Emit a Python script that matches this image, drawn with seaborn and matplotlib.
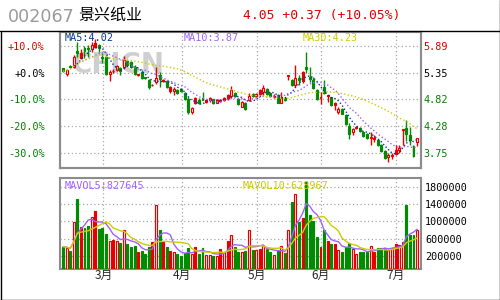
import numpy as np
import pandas as pd
import matplotlib
matplotlib.use("Agg")
import matplotlib.pyplot as plt
from matplotlib.lines import Line2D
import seaborn as sns

# ---------------- data ----------------
stock_code = "002067"
stock_name = "景兴纸业"
quote_text = "4.05 +0.37 (+10.05%)"
base_price = 5.35

opens = [5.44, 5.33, 5.48, 5.47, 5.79, 5.65, 5.85, 5.85, 5.83, 5.86,
         5.91, 5.66, 5.67, 5.32, 5.38, 5.41, 5.44, 5.46, 5.58, 5.56,
         5.46, 5.31, 5.36, 5.26, 5.20, 5.10, 5.16, 5.31, 5.19, 5.18,
         4.98, 4.98, 5.00, 5.03, 4.95, 4.82, 4.57, 4.75, 4.81, 4.85,
         4.77, 4.81, 4.82, 4.75, 4.78, 4.81, 4.84, 4.89, 4.95, 4.83,
         4.67, 4.75, 4.81, 4.93, 4.88, 4.92, 4.97, 5.02, 4.95, 4.87,
         4.90, 4.75, 4.85, 5.29, 5.21, 5.11, 5.24, 5.18, 5.47, 5.27,
         5.21, 5.00, 4.84, 5.07, 4.88, 4.86, 4.70, 4.57, 4.62, 4.51,
         4.29, 4.17, 4.24, 4.25, 4.17, 4.12, 4.04, 4.03, 4.00, 3.90,
         3.78, 3.66, 3.69, 3.72, 3.81, 4.20, 4.24, 4.10, 3.89, 3.96]
highs = [5.45, 5.43, 5.50, 5.70, 5.96, 5.83, 5.89, 5.91, 5.97, 6.02,
         5.93, 5.75, 5.70, 5.40, 5.42, 5.51, 5.46, 5.68, 5.61, 5.58,
         5.50, 5.33, 5.40, 5.27, 5.23, 5.13, 5.47, 5.36, 5.23, 5.20,
         5.08, 5.06, 5.03, 5.05, 4.97, 4.87, 4.67, 4.87, 4.85, 4.97,
         4.83, 4.87, 4.83, 4.82, 4.82, 4.86, 4.92, 5.09, 4.97, 4.85,
         4.79, 4.77, 4.95, 4.95, 4.95, 5.02, 5.10, 5.04, 4.97, 4.92,
         4.92, 4.97, 4.87, 5.29, 5.23, 5.50, 5.30, 5.38, 5.77, 5.46,
         5.26, 5.03, 4.97, 5.20, 4.91, 4.87, 4.77, 4.67, 4.64, 4.53,
         4.34, 4.24, 4.29, 4.27, 4.19, 4.14, 4.17, 4.10, 4.02, 3.92,
         3.80, 3.74, 3.74, 3.90, 3.90, 4.23, 4.40, 4.26, 3.91, 4.05]
lows = [5.36, 5.28, 5.46, 5.44, 5.66, 5.62, 5.65, 5.66, 5.77, 5.84,
        5.76, 5.55, 5.31, 5.18, 5.34, 5.38, 5.30, 5.43, 5.48, 5.44,
        5.31, 5.29, 5.23, 5.22, 5.02, 5.08, 5.13, 5.06, 5.17, 5.04,
        4.95, 4.91, 4.93, 4.97, 4.80, 4.53, 4.53, 4.73, 4.73, 4.80,
        4.75, 4.77, 4.73, 4.74, 4.76, 4.78, 4.81, 4.84, 4.86, 4.71,
        4.66, 4.60, 4.79, 4.86, 4.86, 4.90, 4.91, 4.91, 4.86, 4.85,
        4.74, 4.75, 4.79, 5.20, 5.08, 5.06, 5.10, 5.15, 5.35, 5.16,
        5.03, 4.80, 4.73, 4.93, 4.77, 4.69, 4.60, 4.53, 4.52, 4.30,
        4.02, 4.10, 4.22, 4.16, 4.07, 4.03, 3.90, 3.97, 3.88, 3.77,
        3.62, 3.57, 3.62, 3.71, 3.74, 3.90, 3.99, 3.91, 3.66, 3.89]
closes = [5.38, 5.41, 5.47, 5.66, 5.74, 5.74, 5.79, 5.82, 5.91, 5.95,
          5.84, 5.65, 5.33, 5.36, 5.39, 5.48, 5.38, 5.61, 5.51, 5.46,
          5.33, 5.32, 5.25, 5.24, 5.06, 5.11, 5.24, 5.23, 5.21, 5.06,
          5.06, 5.03, 4.95, 4.99, 4.82, 4.57, 4.65, 4.85, 4.74, 4.81,
          4.81, 4.85, 4.75, 4.80, 4.80, 4.85, 4.90, 5.00, 4.88, 4.73,
          4.77, 4.62, 4.89, 4.88, 4.93, 5.00, 5.05, 4.93, 4.88, 4.89,
          4.75, 4.85, 4.81, 5.29, 5.10, 5.24, 5.20, 5.36, 5.42, 5.22,
          5.04, 4.83, 4.87, 4.95, 4.90, 4.71, 4.75, 4.63, 4.53, 4.32,
          4.12, 4.23, 4.27, 4.18, 4.09, 4.05, 4.07, 4.05, 3.90, 3.79,
          3.64, 3.70, 3.71, 3.80, 3.84, 4.23, 4.13, 4.00, 3.68, 4.05]
volumes = [416, 393, 316, 991, 1526, 874, 858, 898, 1107, 1246,
           828, 851, 712, 556, 580, 549, 502, 797, 479, 417,
           440, 293, 324, 254, 409, 526, 1386, 805, 533, 417,
           316, 285, 246, 200, 277, 393, 246, 409, 246, 386,
           223, 223, 200, 200, 363, 300, 556, 681, 417, 300,
           285, 316, 805, 340, 340, 370, 425, 370, 285, 223,
           316, 432, 270, 805, 1440, 1634, 995, 1080, 1914, 1138,
           1014, 650, 417, 805, 556, 479, 479, 340, 300, 417,
           495, 363, 246, 300, 300, 285, 432, 300, 393, 393,
           393, 340, 378, 487, 456, 533, 1386, 688, 688, 805]
volumes = [v * 1000 for v in volumes]
# u = rising (hollow red), r = solid red, d = falling (solid green)
kinds = list("dududrddur" + "dddurududd" + "drdddrudrd" + "ruddddurdd"
             + "uudururudd" + "ududuruddu" + "dudududrdd" + "ddudrdrudd"
             + "duudddurdd" + "duuruudddu")
month_labels = ["3月", "4月", "5月", "6月", "7月"]
month_pos = [11.3, 33.2, 54.3, 72.1, 93.0]
pct_levels = [0.10, 0.0, -0.10, -0.20, -0.30]
pct_labels = ["+10.0%", "+0.0%", "-10.0%", "-20.0%", "-30.0%"]
price_labels = ["5.89", "5.35", "4.82", "4.28", "3.75"]
level_colors = ["#e00000", "#000000", "#008000", "#008000", "#008000"]
vol_ticks = [200000, 600000, 1000000, 1400000, 1800000]

n = len(closes)
df = pd.DataFrame({"i": np.arange(n), "open": opens, "high": highs,
                   "low": lows, "close": closes, "vol": volumes, "kind": kinds})
df["ma5"] = df["close"].rolling(5, min_periods=1).mean()
df["ma10"] = df["close"].rolling(10, min_periods=1).mean()
df["ma30"] = df["close"].rolling(30, min_periods=1).mean()
df["mv5"] = df["vol"].rolling(5, min_periods=1).mean()
df["mv10"] = df["vol"].rolling(10, min_periods=1).mean()

RED = "#e60000"
GREEN = "#008c00"
C_MA5 = "#0a3a8c"
C_MA10 = "#a062ff"
C_MA30 = "#cccc00"
GRID = "#a8a8a8"
SPINE = "#8c8c8c"

sns.set_theme(style="white")
plt.rcParams["font.family"] = ["DejaVu Sans", "Noto Sans CJK SC"]

W, H = 500, 300
fig = plt.figure(figsize=(5, 3), dpi=100)
fig.patch.set_facecolor("white")

def fx(px):
    return px / W

def fy(py):
    return 1 - py / H

ax = fig.add_axes([fx(60), fy(168), fx(361), 136 / H])
axv = fig.add_axes([fx(60), fy(269), fx(361), 91 / H])

xlim = (-0.85, 100.1)
pmin, pmax = 3.45, 6.16
vmin, vmax = -102000, 2007000

# ---- main candles ----
bw = 0.55
for _, r in df.iterrows():
    k = r["kind"]
    col = GREEN if k == "d" else RED
    ax.vlines(r["i"], r["low"], r["high"], color=col, lw=1.0, zorder=3)
    lo, hi = min(r["open"], r["close"]), max(r["open"], r["close"])
    h = max(hi - lo, 0.012)
    face = "white" if k == "u" else col
    ax.bar(r["i"], h, bottom=lo, width=bw, color=face, edgecolor=col,
           linewidth=0.85, zorder=4)

lst = (0, (1, 1.6))
sns.lineplot(data=df.iloc[3:], x="i", y="ma5", ax=ax, color=C_MA5, lw=1.0,
             linestyle=lst, zorder=5)
sns.lineplot(data=df.iloc[2:], x="i", y="ma10", ax=ax, color=C_MA10, lw=1.0,
             linestyle=lst, zorder=5)
sns.lineplot(data=df, x="i", y="ma30", ax=ax, color=C_MA30, lw=1.0,
             linestyle=lst, zorder=5)

# watermark
ax.text(2.5, 5.50, "CFICN", fontsize=20, fontweight="bold", color="#cfcfcf",
        ha="left", va="center", zorder=1)

ax.set_xlim(*xlim)
ax.set_ylim(pmin, pmax)
levels = [base_price * (1 + p) for p in pct_levels]
ax.set_yticks(levels)
ax.set_yticklabels(pct_labels)
for t, c in zip(ax.get_yticklabels(), level_colors):
    t.set_color(c)
ax.set_xticks(month_pos)
ax.set_xticklabels([])
ax.tick_params(axis="both", length=0)
ax.tick_params(axis="y", pad=11, labelsize=7.3)
for t in ax.get_yticklabels():
    t.set_fontfamily("DejaVu Sans Mono")
ax.grid(True, color=GRID, lw=0.9, linestyle=(0, (1, 2)))
ax.set_xlabel("")
ax.set_ylabel("")

axr = ax.twinx()
axr.set_ylim(pmin, pmax)
axr.set_yticks(levels)
axr.set_yticklabels(price_labels)
for t, c in zip(axr.get_yticklabels(), level_colors):
    t.set_color(c)
    t.set_fontfamily("DejaVu Sans Mono")
axr.tick_params(axis="y", length=0, pad=2, labelsize=7.3)
axr.grid(False)

for a in (ax, axr, axv):
    for s in a.spines.values():
        s.set_color(SPINE)
        s.set_linewidth(1.5)

# legends on main
ax.text(0.013, 0.955, "MA5:4.02", transform=ax.transAxes, color=C_MA5,
        fontsize=7.3, family="DejaVu Sans Mono", va="center", zorder=6)
ax.text(0.343, 0.955, "MA10:3.87", transform=ax.transAxes, color=C_MA10,
        fontsize=7.3, family="DejaVu Sans Mono", va="center", zorder=6)
ax.text(0.673, 0.955, "MA30:4.23", transform=ax.transAxes, color=C_MA30,
        fontsize=7.3, family="DejaVu Sans Mono", va="center", zorder=6)

# ---- volume ----
for _, r in df.iterrows():
    k = r["kind"]
    col = GREEN if k == "d" else RED
    face = "white" if k == "u" else col
    axv.bar(r["i"], r["vol"] - vmin, bottom=vmin, width=bw, color=face,
            edgecolor=col, linewidth=0.85, zorder=3)
sns.lineplot(data=df, x="i", y="mv5", ax=axv, color=C_MA10, lw=1.0, zorder=5)
sns.lineplot(data=df, x="i", y="mv10", ax=axv, color=C_MA30, lw=1.0, zorder=5)
axv.set_xlim(*xlim)
axv.set_ylim(vmin, vmax)
axv.set_xticks(month_pos)
axv.set_xticklabels(month_labels, fontfamily="Noto Sans CJK SC", fontsize=8.5)
axv.yaxis.tick_right()
axv.set_yticks(vol_ticks)
axv.set_yticklabels([str(v) for v in vol_ticks], fontfamily="DejaVu Sans Mono",
                    fontsize=7.3, color="black")
axv.tick_params(axis="both", length=0)
axv.tick_params(axis="y", pad=3)
axv.tick_params(axis="x", pad=0)
axv.grid(True, color=GRID, lw=0.9, linestyle=(0, (1, 2)))
axv.set_xlabel("")
axv.set_ylabel("")
axv.text(0.013, 0.915, "MAVOL5:827645", transform=axv.transAxes, color=C_MA10,
         fontsize=7.3, family="DejaVu Sans Mono", va="center", zorder=6)
axv.text(0.506, 0.915, "MAVOL10:628967", transform=axv.transAxes, color=C_MA30,
         fontsize=7.3, family="DejaVu Sans Mono", va="center", zorder=6)

# ---- header ----
fig.text(fx(8), fy(16.5), stock_code, fontsize=12.6, color="#9a9a9a",
         va="center", ha="left")
fig.text(fx(78), fy(15), stock_name, fontsize=11.5, color="black",
         va="center", ha="left", family=["Noto Sans CJK SC"])
fig.text(fx(243), fy(15.5), quote_text, fontsize=9.4, color="#e00000",
         va="center", ha="left", family="DejaVu Sans Mono")

# ---- frame ----
k_lw = 1.0
fig.add_artist(Line2D([0, 1], [fy(31), fy(31)], color="black", lw=k_lw,
                      transform=fig.transFigure))
fig.add_artist(Line2D([fx(0.5), fx(0.5)], [fy(31), fy(299.5)], color="black",
                      lw=k_lw, transform=fig.transFigure))
fig.add_artist(Line2D([fx(499.5), fx(499.5)], [1, fy(299.5)], color="black",
                      lw=k_lw, transform=fig.transFigure))
fig.add_artist(Line2D([0, 1], [fy(299.5), fy(299.5)], color="black", lw=k_lw,
                      transform=fig.transFigure))

fig.savefig("out.png", dpi=100, facecolor="white")
